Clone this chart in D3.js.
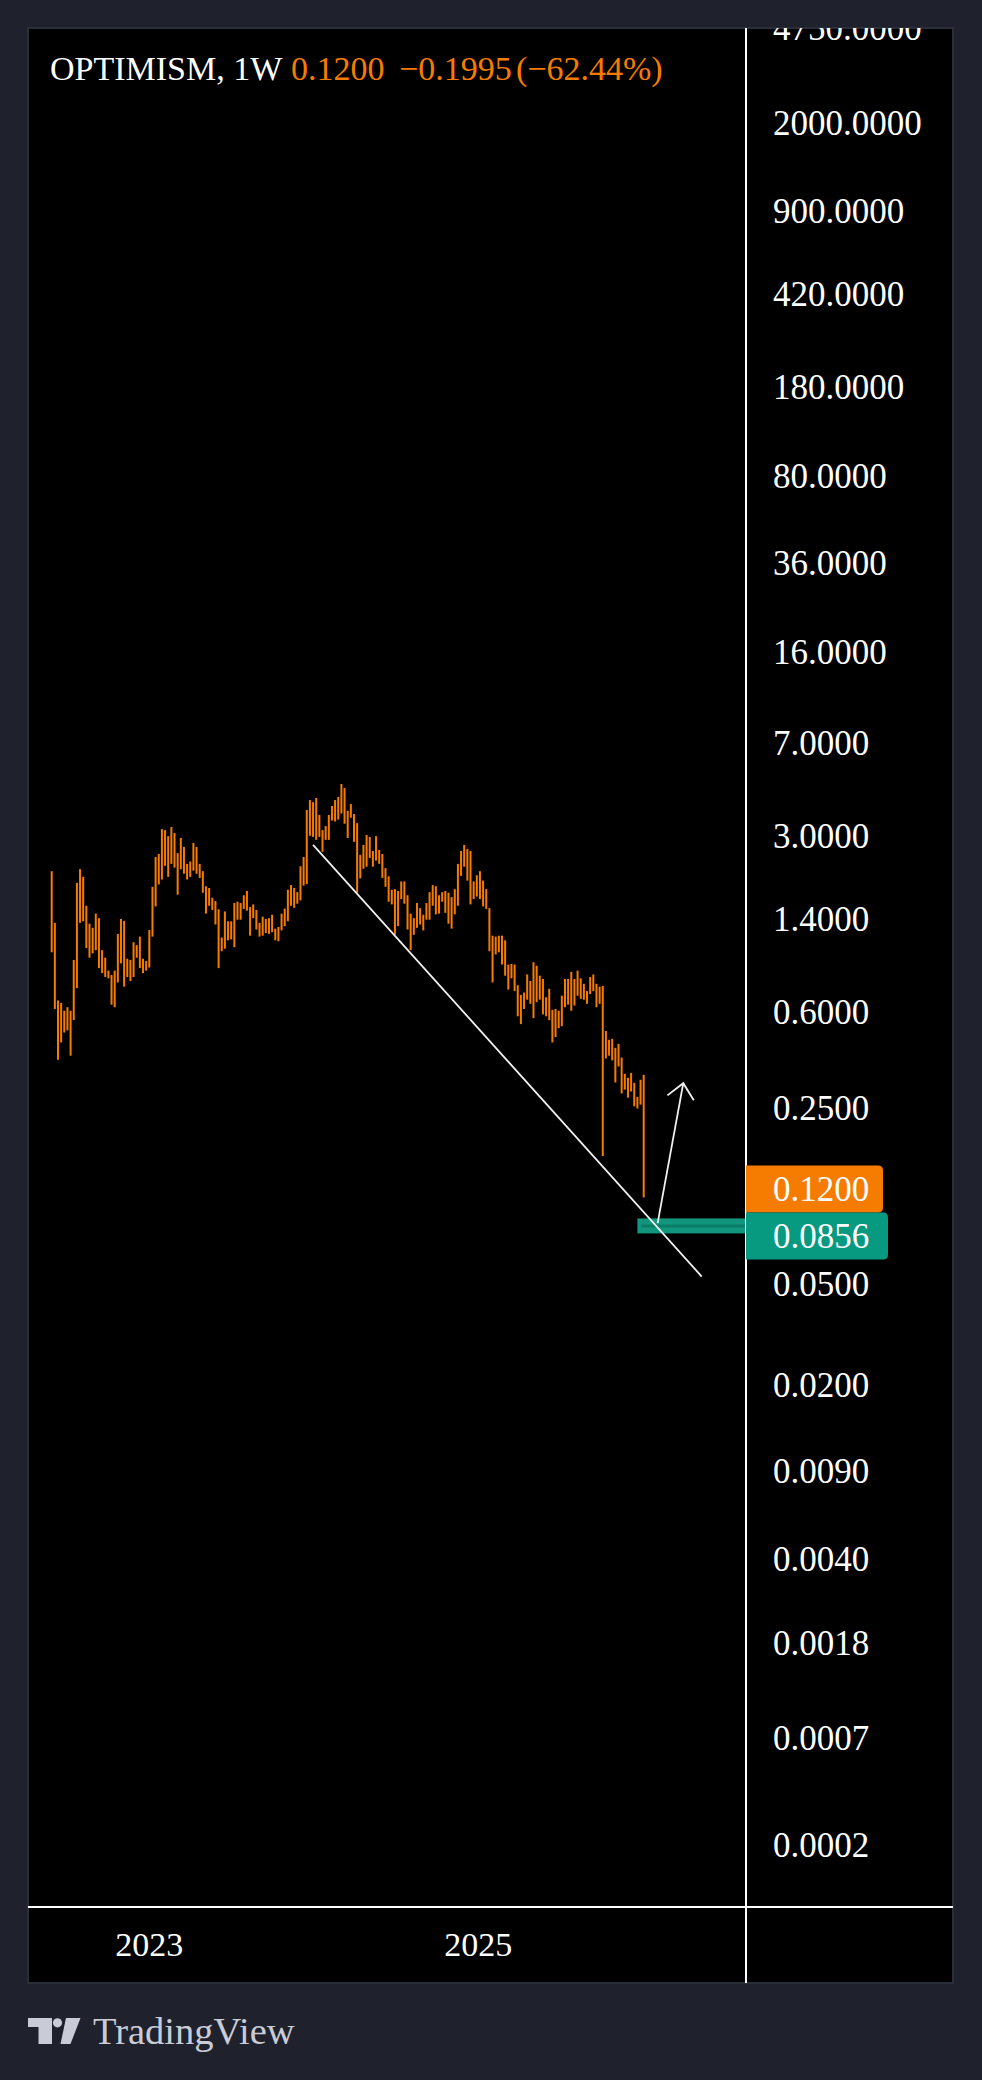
<!DOCTYPE html>
<html>
<head>
<meta charset="utf-8">
<script src="https://cdn.jsdelivr.net/npm/d3@7"></script>
<style>
body { margin: 0; background: #1f222d; }
text { font-family: "Liberation Serif", serif; }
</style>
</head>
<body>
<div class="chart"></div>
<script>

var firstWeek = new Date(2022, 4, 30);
var lastWeek = new Date(2026, 0, 5);

// weekly high / low
var highs = [2.18,1.36,0.67,0.655,0.61,0.63,0.61,0.97,1.96,2.22,
  2.07,1.59,1.35,1.30,1.48,1.42,1.06,0.99,0.88,0.845,
  0.88,1.23,1.41,1.385,0.98,0.97,1.14,1.11,1.20,0.98,
  0.96,1.275,1.89,2.48,2.55,3.20,3.17,3.00,3.26,3.09,
  2.57,2.95,2.72,2.33,2.38,2.82,2.72,2.33,2.18,1.90,
  1.87,1.71,1.66,1.54,1.19,1.51,1.38,1.38,1.63,1.65,
  1.63,1.75,1.82,1.57,1.61,1.53,1.36,1.44,1.41,1.42,
  1.465,1.29,1.31,1.48,1.55,1.84,1.92,1.87,1.80,2.28,
  2.48,3.81,4.17,4.09,4.25,3.64,3.17,3.29,3.64,3.95,
  4.17,4.29,4.83,4.65,3.78,4.02,3.67,3.38,2.53,2.77,
  3.03,2.98,2.62,3.00,2.645,2.55,2.24,2.08,1.84,1.85,
  1.82,1.985,1.985,1.75,1.48,1.42,1.63,1.555,1.465,1.63,
  1.80,1.92,1.90,1.75,1.80,1.82,1.79,1.72,1.85,2.33,
  2.62,2.77,2.67,2.62,1.985,2.10,2.18,2.00,1.85,1.555,
  1.21,1.20,1.21,1.21,1.16,0.93,0.935,0.93,0.77,0.705,
  0.72,0.85,0.80,0.95,0.92,0.84,0.815,0.69,0.745,0.615,
  0.62,0.61,0.70,0.815,0.815,0.87,0.815,0.88,0.82,0.78,
  0.73,0.83,0.85,0.78,0.76,0.765,0.507,0.468,0.472,0.435,
  0.451,0.398,0.343,0.331,0.346,0.316,0.278,0.325,0.340];

var lows = [1.04,0.62,0.39,0.457,0.50,0.51,0.405,0.56,0.75,1.36,
  1.38,1.08,0.99,1.03,1.06,0.90,0.86,0.83,0.82,0.645,
  0.63,0.79,0.94,0.76,0.83,0.80,0.83,0.99,0.90,0.86,
  0.88,0.905,1.20,1.58,1.93,2.02,2.29,2.07,2.33,2.25,
  1.76,2.22,2.13,2.02,2.07,2.19,2.13,2.05,1.79,1.48,
  1.59,1.53,1.34,0.90,1.05,1.075,1.16,1.17,1.09,1.40,
  1.40,1.545,1.52,1.21,1.42,1.28,1.20,1.21,1.24,1.23,
  1.25,1.16,1.15,1.27,1.32,1.38,1.59,1.56,1.62,1.67,
  1.91,1.94,3.01,2.98,2.90,2.98,2.60,2.90,2.90,3.46,
  3.43,3.49,3.69,3.36,2.95,3.55,2.85,1.79,2.04,2.23,
  2.27,2.46,2.27,2.40,2.33,2.05,1.89,1.65,1.61,1.22,
  1.32,1.69,1.62,1.28,1.06,1.22,1.30,1.34,1.27,1.40,
  1.40,1.59,1.47,1.48,1.65,1.49,1.35,1.29,1.47,1.59,
  2.09,2.27,2.00,1.61,1.69,1.73,1.69,1.58,1.545,1.05,
  0.79,1.02,1.04,0.93,0.84,0.74,0.82,0.73,0.58,0.54,
  0.62,0.675,0.65,0.57,0.66,0.675,0.59,0.58,0.56,0.457,
  0.48,0.52,0.53,0.63,0.645,0.61,0.64,0.70,0.68,0.675,
  0.65,0.71,0.73,0.63,0.65,0.162,0.395,0.405,0.388,0.317,
  0.367,0.287,0.297,0.276,0.292,0.255,0.250,0.259,0.111];

var priceTicks = [4750, 2000, 900, 420, 180, 80, 36, 16, 7, 3, 1.4, 0.6, 0.25, 0.05, 0.02, 0.009, 0.004, 0.0018, 0.0007, 0.0002];
var yearTicks = [new Date(2023, 0, 1), new Date(2025, 0, 1)];

var symbol = "OPTIMISM, 1W";
var quoteParts = ["0.1200", "\u22120.1995", "(\u221262.44%)"];
var lastPrice = 0.12;
var markPrice = 0.0856;
var markStart = new Date(2025, 11, 22);

var trendLine = [{date: new Date(2024, 0, 1), price: 2.77}, {date: new Date(2026, 4, 14), price: 0.0539}];
var arrowLine = [{date: new Date(2026, 1, 5), price: 0.0878}, {date: new Date(2026, 3, 3), price: 0.315}];

var width = 982, height = 2080;
var paneL = 28, paneR = 953, paneT = 28, paneB = 1983;
var axisX = 746, timeY = 1907;
var OFFSET = 0.0001;

var orange = "#f57c00", teal = "#089981";

var svg = d3.select('.chart').append('svg').attr('width', width).attr('height', height);

var x = d3.scaleTime().domain([firstWeek, lastWeek]).range([51.7, 643.7]);
var y = d3.scaleLog().domain([0.0001716, 4776]).range([timeY, paneT]);
function py(v) { return y(v + OFFSET); }

var bars = highs.map(function(h, i) {
  return {date: d3.timeDay.offset(firstWeek, i * 7), high: h, low: lows[i]};
});

var defs = svg.append("defs");
defs.append("clipPath").attr("id", "paneClip").append("rect")
  .attr("x", paneL).attr("y", paneT).attr("width", axisX - paneL).attr("height", timeY - paneT);
defs.append("clipPath").attr("id", "axisClip").append("rect")
  .attr("x", axisX).attr("y", paneT).attr("width", paneR - axisX).attr("height", timeY - paneT);

svg.append("rect").attr("x", paneL).attr("y", paneT).attr("width", paneR - paneL).attr("height", paneB - paneT)
  .attr("fill", "#000").attr("stroke", "#2a2e39").attr("stroke-width", 2);

var pane = svg.append("g").attr("clip-path", "url(#paneClip)");

pane.selectAll(".bar").data(bars).enter().append("rect")
  .attr("class", "bar")
  .attr("x", function(d) { return x(d.date) - 1; })
  .attr("y", function(d) { return py(d.high); })
  .attr("width", 2)
  .attr("height", function(d) { return Math.max(1, py(d.low) - py(d.high)); })
  .attr("fill", orange);

// highlighted level
var my = py(markPrice);
pane.append("rect").attr("x", x(markStart)).attr("y", my - 7.5)
  .attr("width", axisX - x(markStart)).attr("height", 15).attr("fill", "#11967d");
pane.append("line").attr("x1", x(markStart) + 4).attr("x2", axisX).attr("y1", my).attr("y2", my)
  .attr("stroke", "#0b7c68").attr("stroke-width", 3);

var line = d3.line().x(function(d) { return x(d.date); }).y(function(d) { return py(d.price); });

pane.append("path").datum(trendLine).attr("d", line)
  .attr("fill", "none").attr("stroke", "#f0f0f0").attr("stroke-width", 1.8);

pane.append("path").datum(arrowLine).attr("d", line)
  .attr("fill", "none").attr("stroke", "#f0f0f0").attr("stroke-width", 1.8);

var tipX = x(arrowLine[1].date), tipY = py(arrowLine[1].price);
var ang = Math.atan2(py(arrowLine[0].price) - tipY, x(arrowLine[0].date) - tipX);
var wing = 20, spread = 42 * Math.PI / 180;
var head = [
  [tipX + wing * Math.cos(ang + spread), tipY + wing * Math.sin(ang + spread)],
  [tipX, tipY],
  [tipX + wing * Math.cos(ang - spread), tipY + wing * Math.sin(ang - spread)]
];
pane.append("path").attr("d", d3.line()(head))
  .attr("fill", "none").attr("stroke", "#f0f0f0").attr("stroke-width", 1.8);

// price axis
var yAxis = d3.axisRight(y)
  .tickValues(priceTicks.map(function(v) { return v + OFFSET; }))
  .tickFormat(function(d) { return d3.format(".4f")(d - OFFSET); })
  .tickSize(0).tickPadding(27);

var ya = svg.append("g").attr("clip-path", "url(#axisClip)").append("g")
  .attr("transform", "translate(" + axisX + ",0)")
  .call(yAxis);
ya.select(".domain").remove();
ya.selectAll("text").attr("fill", "#fff").attr("font-size", 35).attr("font-family", "Liberation Serif, serif");

// time axis
var xAxis = d3.axisBottom(x).tickValues(yearTicks).tickFormat(d3.timeFormat("%Y")).tickSize(0).tickPadding(25);
var xa = svg.append("g").attr("transform", "translate(0," + timeY + ")").call(xAxis);
xa.select(".domain").remove();
xa.selectAll("text").attr("fill", "#fff").attr("font-size", 34).attr("font-family", "Liberation Serif, serif");

svg.append("line").attr("x1", axisX).attr("x2", axisX).attr("y1", paneT).attr("y2", paneB)
  .attr("stroke", "#fff").attr("stroke-width", 2);
svg.append("line").attr("x1", paneL).attr("x2", paneR).attr("y1", timeY).attr("y2", timeY)
  .attr("stroke", "#fff").attr("stroke-width", 2);

// price labels on the axis
function priceLabel(cy, fill, w, txt) {
  var h = 47, r = 5, x0 = axisX, y0 = cy - h / 2;
  svg.append("path")
    .attr("d", "M" + x0 + "," + y0 + "H" + (x0 + w - r) + "Q" + (x0 + w) + "," + y0 + " " + (x0 + w) + "," + (y0 + r) +
      "V" + (y0 + h - r) + "Q" + (x0 + w) + "," + (y0 + h) + " " + (x0 + w - r) + "," + (y0 + h) + "H" + x0 + "Z")
    .attr("fill", fill);
  svg.append("text").attr("x", 773).attr("y", cy).attr("dy", "0.35em")
    .attr("fill", "#fff").attr("font-size", 35).text(txt);
}
var ly = py(lastPrice);
priceLabel(ly, orange, 137, d3.format(".4f")(lastPrice));
priceLabel(Math.max(my, ly + 47), teal, 142, d3.format(".4f")(markPrice));

// legend
var legend = svg.append("text").attr("y", 80).attr("font-size", 34);
legend.append("tspan").attr("x", 50).attr("fill", "#fff").text(symbol);
var qx = [291, 399, 516];
quoteParts.forEach(function(q, i) {
  legend.append("tspan").attr("x", qx[i]).attr("fill", orange).text(q);
});

// watermark
var logo = svg.append("g").attr("fill", "#c9ccd6");
logo.append("path").attr("d", "M28,2018H52V2044H38.5V2027H28Z");
logo.append("circle").attr("cx", 57.5).attr("cy", 2022.8).attr("r", 4.6);
logo.append("path").attr("d", "M66,2018H80.5L70.5,2044H60.5Z");
svg.append("text").attr("x", 93).attr("y", 2044).attr("font-size", 38.5)
  .attr("fill", "#c9ccd6").text("TradingView");

</script>
</body>
</html>
